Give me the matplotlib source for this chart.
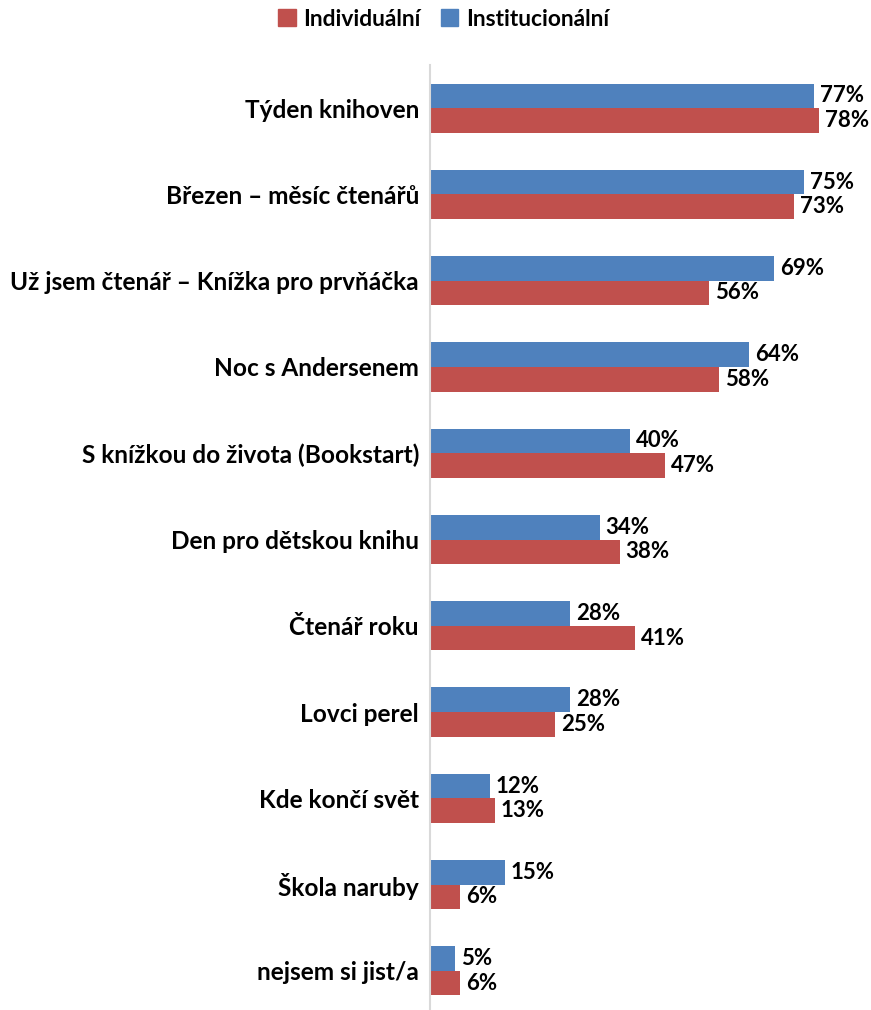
import matplotlib
matplotlib.use("Agg")
import matplotlib.pyplot as plt
import numpy as np

categories = ["Týden knihoven", "Březen – měsíc čtenářů", "Už jsem čtenář – Knížka pro prvňáčka",
              "Noc s Andersenem", "S knížkou do života (Bookstart)", "Den pro dětskou knihu",
              "Čtenář roku", "Lovci perel", "Kde končí svět", "Škola naruby", "nejsem si jist/a"]
individualni = [78, 73, 56, 58, 47, 38, 41, 25, 13, 6, 6]
institucionalni = [77, 75, 69, 64, 40, 34, 28, 28, 12, 15, 5]
series_names = ["Individuální", "Institucionální"]

RED = "#C0504D"
BLUE = "#4F81BD"

plt.rcParams['font.family'] = ['Lato', 'DejaVu Sans']
plt.rcParams['font.weight'] = 'bold'

W, H = 871, 1010
fig = plt.figure(figsize=(W/100, H/100), dpi=100)
left = 430 / W
top_px, bot_px = 65, 1014
ax = fig.add_axes([left, (H - bot_px) / H, (W - 430) / W, (bot_px - top_px) / H])

n = len(categories)
y = np.arange(n)
h = 0.285
ax.barh(y - h/2, institucionalni, height=h, color=BLUE)
ax.barh(y + h/2, individualni, height=h, color=RED)

for yi, v in zip(y, institucionalni):
    ax.text(v + 1.2, yi - h/2, f"{v}%", va="center", ha="left", fontsize=16, fontweight="bold", color="#000000")
for yi, v in zip(y, individualni):
    ax.text(v + 1.2, yi + h/2, f"{v}%", va="center", ha="left", fontsize=16, fontweight="bold", color="#000000")

ax.set_ylim(n - 0.5, -0.5)
ax.set_xlim(0, (W - 430) / 4.99)
ax.set_yticks(y)
ax.set_yticklabels(categories, fontsize=17.6, fontweight="bold")
ax.tick_params(axis="y", length=0, pad=8)
ax.set_xticks([])
for s in ["top", "right", "bottom"]:
    ax.spines[s].set_visible(False)
ax.spines["left"].set_color("#D9D9D9")
ax.spines["left"].set_linewidth(1.5)

from matplotlib.patches import Patch
handles = [Patch(color=RED, label=series_names[0]), Patch(color=BLUE, label=series_names[1])]
fig.legend(handles=handles, loc="center", bbox_to_anchor=(444 / W, 1 - 19 / H), ncol=2, frameon=False,
           prop={"size": 16.4, "weight": "bold"}, handlelength=0.75, handleheight=0.75,
           handletextpad=0.35, columnspacing=0.9)

fig.savefig("out.png", dpi=100)
